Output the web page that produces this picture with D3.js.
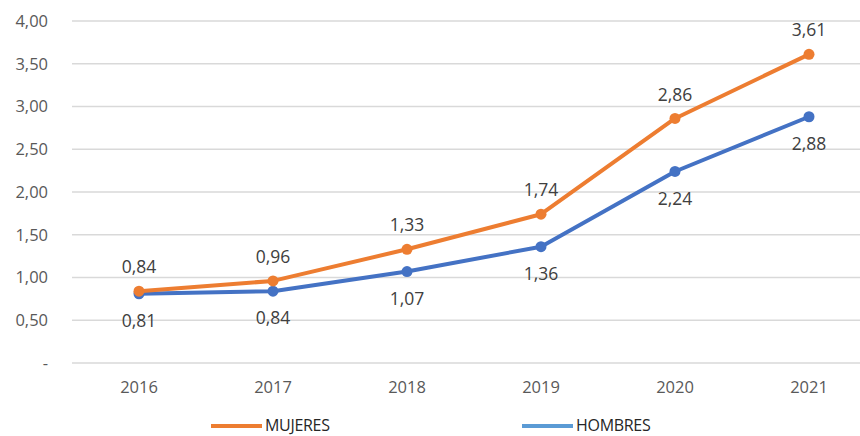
<!DOCTYPE html>
<html>
<head>
<meta charset="utf-8">
<script src="https://cdn.jsdelivr.net/npm/d3@7"></script>
<style>
  body { margin: 0; background: #fff; }
  text { font-family: "Open Sans", sans-serif; }
</style>
</head>
<body>
<div id="chart"></div>
<script>
const years = ["2016", "2017", "2018", "2019", "2020", "2021"]
const mujeres = [0.84, 0.96, 1.33, 1.74, 2.86, 3.61]
const hombres = [0.81, 0.84, 1.07, 1.36, 2.24, 2.88]
const yTicks = [0, 0.5, 1, 1.5, 2, 2.5, 3, 3.5, 4]

const width = 860, height = 436

const svg = d3.select("#chart").append("svg")
  .attr("width", width)
  .attr("height", height)

// scales
const x = d3.scaleBand().domain(years).range([72, 876])
const y = d3.scaleLinear().domain([0, 4]).range([363, 21])

const fmt = v => v === 0 ? "-" : d3.format(".2f")(v).replace(".", ",")

// gridlines
svg.append("g").selectAll("line")
  .data(yTicks)
  .join("line")
    .attr("x1", 72).attr("x2", width)
    .attr("y1", d => y(d)).attr("y2", d => y(d))
    .attr("stroke", "#d9d9d9").attr("stroke-width", 1.3)

// y labels
svg.append("g").selectAll("text")
  .data(yTicks)
  .join("text")
    .attr("x", 48).attr("y", d => y(d))
    .attr("dy", "0.35em")
    .attr("text-anchor", "end")
    .attr("font-size", 16.5)
    .attr("fill", "#595959")
    .text(fmt)

// x labels
svg.append("g").selectAll("text")
  .data(years)
  .join("text")
    .attr("x", d => x(d) + x.bandwidth() / 2)
    .attr("y", 387).attr("dy", "0.35em")
    .attr("text-anchor", "middle")
    .attr("font-size", 16.5)
    .attr("fill", "#595959")
    .text(d => d)

const series = [
  { name: "MUJERES", values: mujeres, color: "#ED7D31", legend: "#ED7D31", dy: -24 },
  { name: "HOMBRES", values: hombres, color: "#4472C4", legend: "#5B9BD5", dy: 27 }
]

const line = d3.line()
  .x((d, i) => x(years[i]) + x.bandwidth() / 2)
  .y(d => y(d))

// draw hombres first so the orange series sits on top
series.slice().reverse().forEach(s => {
  const g = svg.append("g")
  g.append("path")
    .attr("d", line(s.values))
    .attr("fill", "none")
    .attr("stroke", s.color)
    .attr("stroke-width", 4)
    .attr("stroke-linejoin", "round")
  g.selectAll("circle")
    .data(s.values)
    .join("circle")
      .attr("cx", (d, i) => x(years[i]) + x.bandwidth() / 2)
      .attr("cy", d => y(d))
      .attr("r", 5.5)
      .attr("fill", s.color)
  g.selectAll("text")
    .data(s.values)
    .join("text")
      .attr("x", (d, i) => x(years[i]) + x.bandwidth() / 2)
      .attr("y", d => y(d) + s.dy)
      .attr("dy", "0.35em")
      .attr("text-anchor", "middle")
      .attr("font-size", 17.5)
      .attr("fill", "#404040")
      .text(fmt)
})

// legend
const legend = svg.append("g")
const legendX = [211, 522]
series.forEach((s, i) => {
  legend.append("line")
    .attr("x1", legendX[i]).attr("x2", legendX[i] + 51)
    .attr("y1", 426).attr("y2", 426)
    .attr("stroke", s.legend).attr("stroke-width", 4)
  legend.append("text")
    .attr("x", legendX[i] + 54).attr("y", 425)
    .attr("dy", "0.35em")
    .attr("font-size", 16)
    .attr("letter-spacing", -0.3)
    .attr("fill", "#262626")
    .text(s.name)
})
</script>
</body>
</html>
